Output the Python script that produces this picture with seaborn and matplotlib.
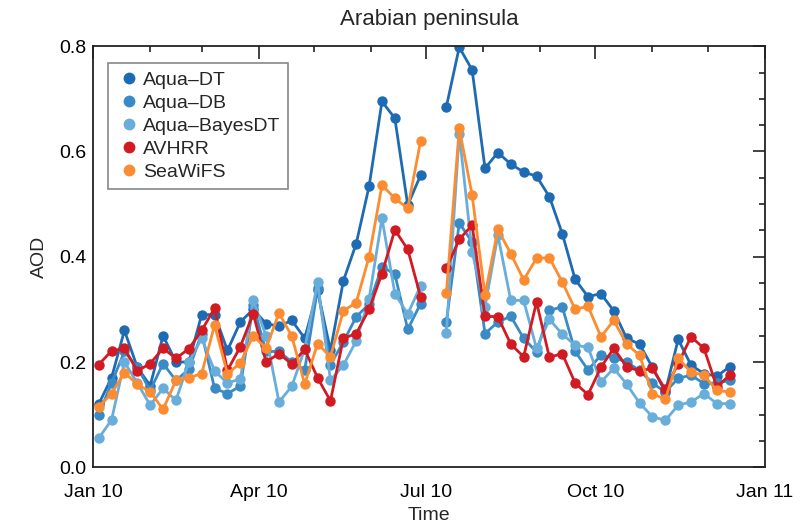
import numpy as np
import pandas as pd
import seaborn as sns
import matplotlib.pyplot as plt
import matplotlib.dates as mdates
from matplotlib.lines import Line2D
from matplotlib.ticker import MultipleLocator

nan = np.nan

# weekly AOD values, week 26 missing
aqua_dt = [0.12, 0.17, 0.26, 0.19, 0.155, 0.25, 0.20, 0.20, 0.29, 0.29, 0.222, 0.276, 0.30,
           0.273, 0.268, 0.279, 0.245, 0.336, 0.222, 0.354, 0.425, 0.534, 0.695, 0.663, 0.498, 0.555, nan,
           0.685, 0.798, 0.755, 0.568, 0.598, 0.576, 0.561, 0.553, 0.514, 0.444, 0.357, 0.324,
           0.330, 0.297, 0.245, 0.234, 0.19, 0.143, 0.243, 0.194, 0.178, 0.173, 0.191]
aqua_db = [0.10, 0.16, 0.22, 0.19, 0.146, 0.197, 0.165, 0.186, 0.254, 0.15, 0.14, 0.154, 0.308,
           0.22, 0.22, 0.20, 0.185, 0.34, 0.195, 0.238, 0.286, 0.31, 0.381, 0.367, 0.262, 0.311, nan,
           0.276, 0.464, 0.428, 0.254, 0.276, 0.287, 0.245, 0.219, 0.298, 0.305, 0.22, 0.185,
           0.213, 0.208, 0.200, 0.184, 0.16, 0.143, 0.169, 0.175, 0.159, 0.16, 0.165]
aqua_bayes = [0.055, 0.09, 0.20, 0.16, 0.118, 0.15, 0.127, 0.20, 0.245, 0.183, 0.16, 0.168, 0.317,
              0.25, 0.124, 0.154, 0.225, 0.352, 0.165, 0.194, 0.24, 0.32, 0.473, 0.33, 0.291, 0.345, nan,
              0.255, 0.634, 0.409, 0.305, 0.441, 0.317, 0.317, 0.226, 0.281, 0.253, 0.232, 0.228,
              0.162, 0.188, 0.158, 0.122, 0.096, 0.089, 0.118, 0.124, 0.140, 0.121, 0.121]
avhrr = [0.195, 0.221, 0.226, 0.183, 0.197, 0.226, 0.207, 0.225, 0.26, 0.302, 0.184, 0.229, 0.292,
         0.200, 0.216, 0.196, 0.224, 0.170, 0.126, 0.245, 0.254, 0.300, 0.368, 0.451, 0.414, 0.324, nan,
         0.378, 0.433, 0.460, 0.287, 0.286, 0.234, 0.210, 0.314, 0.209, 0.216, 0.160, 0.138,
         0.190, 0.226, 0.191, 0.183, 0.188, 0.148, 0.197, 0.248, 0.226, 0.153, 0.175]
seawifs = [0.115, 0.14, 0.18, 0.158, 0.143, 0.11, 0.165, 0.17, 0.178, 0.27, 0.178, 0.198, 0.25,
           0.226, 0.293, 0.249, 0.158, 0.235, 0.21, 0.297, 0.313, 0.40, 0.536, 0.511, 0.492, 0.62, nan,
           0.331, 0.644, 0.517, 0.327, 0.452, 0.406, 0.356, 0.397, 0.398, 0.352, 0.30, 0.306,
           0.248, 0.279, 0.234, 0.213, 0.14, 0.129, 0.207, 0.181, 0.175, 0.146, 0.143]

names = ['Aqua\u2013DT', 'Aqua\u2013DB', 'Aqua\u2013BayesDT', 'AVHRR', 'SeaWiFS']
colors = ['#1f6bb3', '#3a8ac6', '#69aedb', '#d11a22', '#fb8c32']
series = [aqua_dt, aqua_db, aqua_bayes, avhrr, seawifs]

dates = pd.date_range('2010-01-04', periods=50, freq='7D')

# long table, the gap splits each line into two segments
rows = []
for name, vals in zip(names, series):
    seg = 0
    for d, v in zip(dates, vals):
        if np.isnan(v):
            seg += 1
            continue
        rows.append({'date': d, 'AOD': v, 'sensor': name, 'seg': seg})
df = pd.DataFrame(rows)

sns.set_style('white')
plt.rcParams['font.family'] = ['Liberation Sans', 'DejaVu Sans']

fig = plt.figure(figsize=(8.1, 5.31), dpi=100)
ax = fig.add_axes([0.115, 0.12, 0.829, 0.793])

sns.lineplot(data=df, x='date', y='AOD', hue='sensor', units='seg', estimator=None,
             palette=dict(zip(names, colors)), hue_order=names, marker='o', markersize=7.5,
             markeredgewidth=0, linewidth=2, legend=False, ax=ax)

ax.set_xlim(pd.Timestamp('2010-01-01'), pd.Timestamp('2011-01-01'))
ax.set_ylim(0, 0.8)
ax.xaxis.set_major_locator(mdates.MonthLocator(bymonth=[1, 4, 7, 10]))
ax.xaxis.set_minor_locator(mdates.MonthLocator())
ax.xaxis.set_major_formatter(mdates.DateFormatter('%b %y'))
ax.yaxis.set_major_locator(MultipleLocator(0.2))
ax.yaxis.set_minor_locator(MultipleLocator(0.05))
ax.yaxis.set_major_formatter(plt.FormatStrFormatter('%.1f'))
ax.tick_params(which='both', direction='in', top=True, right=True, color='#222222',
               labelsize=14, labelcolor='black')
ax.tick_params(which='major', length=9, width=1.2)
ax.tick_params(axis='x', which='major', pad=12)
ax.tick_params(axis='y', which='major', pad=5)
ax.tick_params(which='minor', length=4.5, width=1.2)
for s in ax.spines.values():
    s.set_color('#222222')
    s.set_linewidth(1.3)

ax.set_title('Arabian peninsula', fontsize=16, pad=15)
ax.set_xlabel('Time', fontsize=14, labelpad=4)
ax.set_ylabel('AOD', fontsize=14, labelpad=8)

handles = [Line2D([], [], linestyle='none', marker='o', markersize=7.5, color=c) for c in colors]
leg = ax.legend(handles, names, loc='upper left', bbox_to_anchor=(0.008, 0.982), fontsize=14,
                handletextpad=0.1, labelspacing=0.28, borderpad=0.4, fancybox=False,
                handlelength=1.3, framealpha=1)
leg.get_frame().set_edgecolor('#888888')
leg.get_frame().set_linewidth(1.2)

plt.savefig('out.png', dpi=100)
